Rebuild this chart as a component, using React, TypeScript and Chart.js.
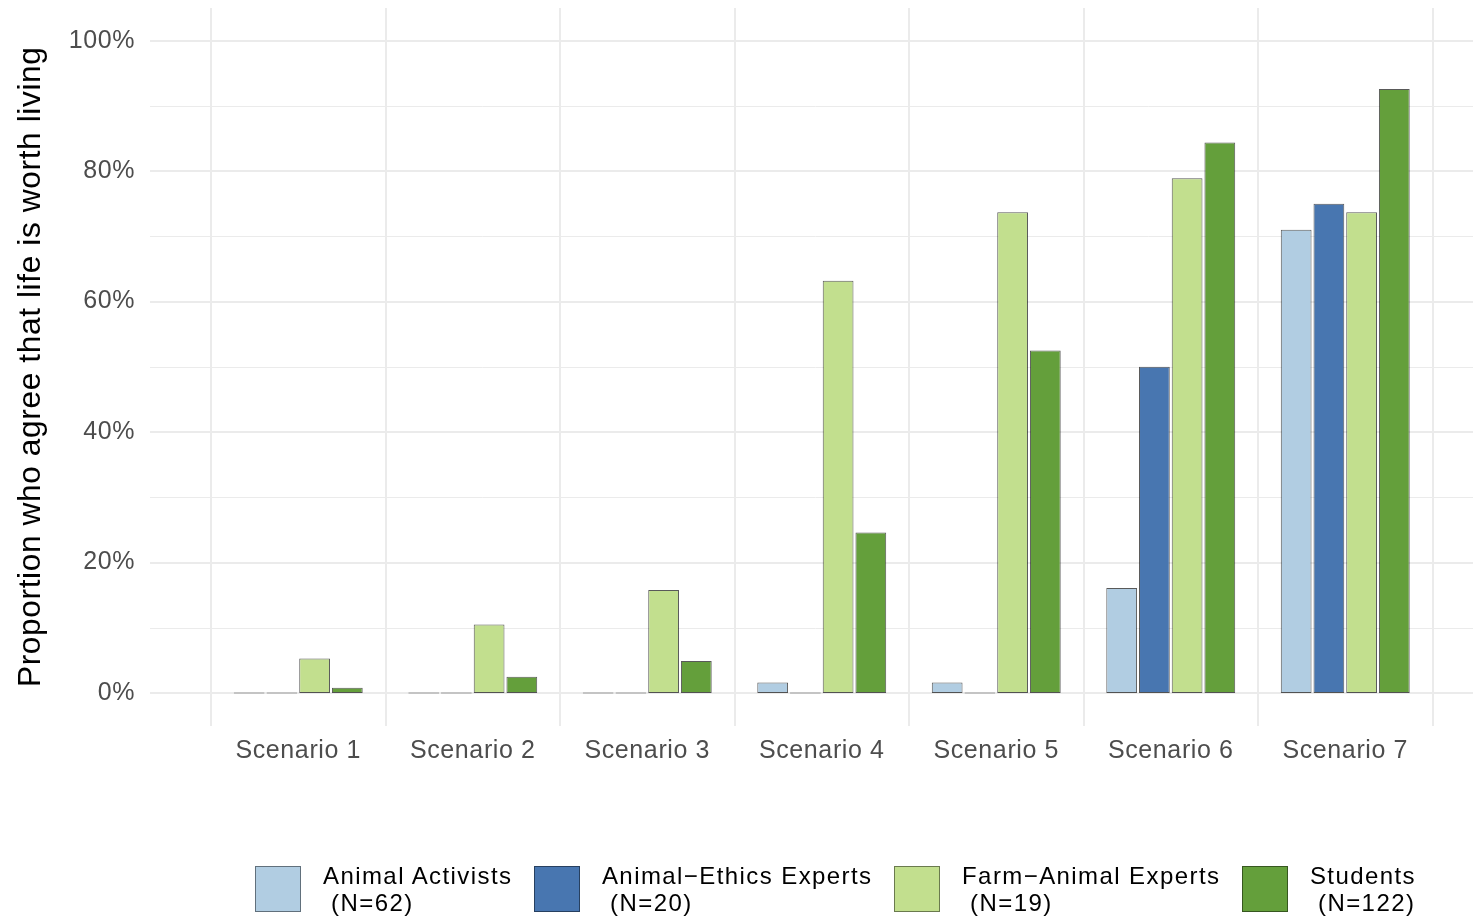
import React, { useEffect, useRef } from 'react';
import { Chart, registerables } from 'chart.js';

Chart.register(...registerables);

const FONT = '"Liberation Sans", Arial, Helvetica, sans-serif';

const categories = ['Scenario 1', 'Scenario 2', 'Scenario 3', 'Scenario 4', 'Scenario 5', 'Scenario 6', 'Scenario 7'];
const groupNames = ['Animal Activists', 'Animal−Ethics Experts', 'Farm−Animal Experts', 'Students'];
const groupSizes = ['(N=62)', '(N=20)', '(N=19)', '(N=122)'];
const activists = [0, 0, 0, 1.6, 1.6, 16.1, 71.0];
const ethicsExperts = [0, 0, 0, 0, 0, 50.0, 75.0];
const farmExperts = [5.3, 10.5, 15.8, 63.2, 73.7, 78.9, 73.7];
const students = [0.8, 2.5, 4.9, 24.6, 52.5, 84.4, 92.6];
const yMajorTicks = [0, 20, 40, 60, 80, 100];
const yMinorTicks = [10, 30, 50, 70, 90];
const colors = ['#B1CDE2', '#4876B0', '#C2DF8E', '#649F3B'];
const yTitle = 'Proportion who agree that life is worth living';

const GRID = '#EBEBEB';

const panelGrid = {
  id: 'panelGrid',
  beforeDraw(chart: any) {
    (chart.ctx as any).letterSpacing = '0.6px';
  },
  beforeDatasetsDraw(chart: any) {
    const { ctx, scales, chartArea, width } = chart;
    const y = scales.y;
    const left = chartArea.left - 61;
    ctx.save();
    ctx.strokeStyle = GRID;
    yMinorTicks.forEach((v) => {
      const p = Math.round(y.getPixelForValue(v)) + 0.5;
      ctx.lineWidth = 1;
      ctx.beginPath();
      ctx.moveTo(left, p);
      ctx.lineTo(width, p);
      ctx.stroke();
    });
    yMajorTicks.forEach((v) => {
      const p = Math.round(y.getPixelForValue(v));
      ctx.lineWidth = 2;
      ctx.beginPath();
      ctx.moveTo(left, p);
      ctx.lineTo(width, p);
      ctx.stroke();
    });
    ctx.restore();
  },
};

export default function App() {
  const canvasRef = useRef<HTMLCanvasElement>(null);

  useEffect(() => {
    if (!canvasRef.current) return;
    const series = [activists, ethicsExperts, farmExperts, students];
    const chart = new Chart(canvasRef.current, {
      type: 'bar',
      data: {
        labels: categories,
        datasets: series.map((d, i) => ({
          label: groupNames[i] + ' ' + groupSizes[i],
          data: d,
          backgroundColor: colors[i],
          borderColor: 'rgba(0,0,0,0.65)',
          borderWidth: 1,
          borderSkipped: false,
          minBarLength: 1,
          categoryPercentage: 0.75,
          barPercentage: 0.94,
        })),
      },
      options: {
        responsive: false,
        animation: false,
        layout: { padding: { left: 0, right: 48.5, top: 0, bottom: 0 } },
        plugins: {
          legend: { display: false },
          tooltip: { enabled: false },
        },
        scales: {
          x: {
            grid: { display: true, offset: true, color: GRID, lineWidth: 2, drawTicks: false },
            border: { display: false },
            ticks: { color: '#4D4D4D', font: { size: 25, family: FONT }, padding: 10.5 },
            afterFit: (s: any) => {
              s.height = 196.4;
            },
          },
          y: {
            min: -5,
            max: 105,
            afterBuildTicks: (s: any) => {
              s.ticks = yMajorTicks.map((v) => ({ value: v }));
            },
            grid: { display: false, drawTicks: false },
            border: { display: false },
            ticks: {
              color: '#4D4D4D',
              font: { size: 25, family: FONT },
              padding: 76,
              callback: (v: any) => v + '%',
            },
            title: {
              display: true,
              text: yTitle,
              color: '#000000',
              font: { size: 31.7, family: FONT },
              padding: { top: 4, bottom: 0 },
            },
            afterFit: (s: any) => {
              s.width = 203;
              s.paddingTop = 0;
              s.paddingBottom = 0;
            },
          },
        },
      },
      plugins: [panelGrid],
    });
    return () => chart.destroy();
  }, []);

  return (
    <div style={{ position: 'relative', width: 1473, height: 914, fontFamily: FONT }}>
      <canvas ref={canvasRef} width={1473} height={914} style={{ display: 'block', width: 1473, height: 914 }} />
      <div
        style={{
          position: 'absolute',
          left: 247,
          top: 854,
          display: 'flex',
          alignItems: 'center',
          whiteSpace: 'pre',
        }}
      >
        {groupNames.map((name, i) => (
          <div key={name} style={{ display: 'flex', alignItems: 'center', marginRight: 21.5 }}>
            <div
              style={{
                width: 46,
                height: 46,
                boxSizing: 'border-box',
                background: colors[i],
                border: '1px solid rgba(0,0,0,0.45)',
                marginRight: 22,
              }}
            />
            <div style={{ fontSize: 24, lineHeight: '27px', letterSpacing: '1.42px', color: '#000' }}>
              <div>{name}</div>
              <div>{' ' + groupSizes[i]}</div>
            </div>
          </div>
        ))}
      </div>
    </div>
  );
}
